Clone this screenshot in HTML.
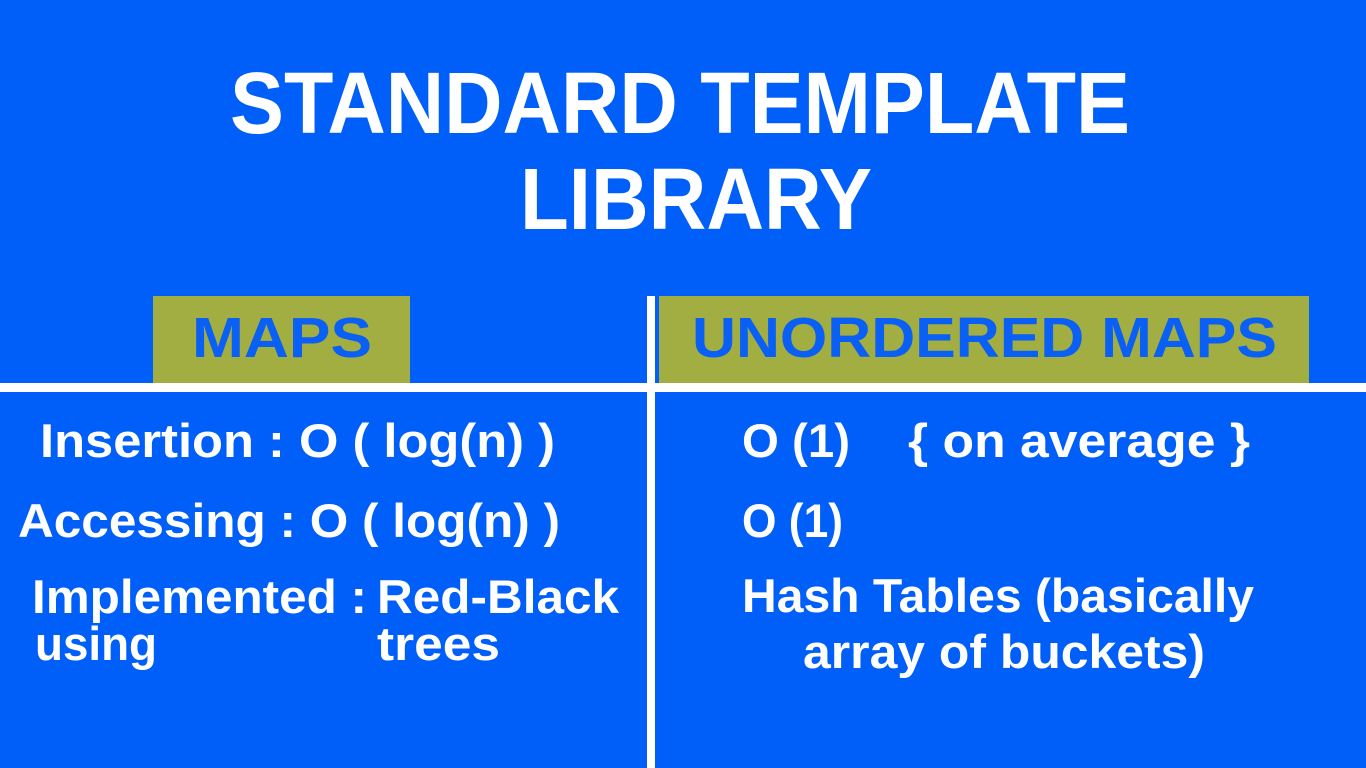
<!DOCTYPE html>
<html><head><meta charset="utf-8"><style>
html,body{margin:0;padding:0;background:#005ef9;}
svg{display:block}
text{font-family:"Liberation Sans",sans-serif;font-weight:bold;}
</style></head><body>
<svg width="1366" height="768" viewBox="0 0 1366 768">
<rect width="1366" height="768" fill="#005ef9"/>
<rect x="153" y="296" width="257" height="88" fill="#a3ae42"/>
<rect x="659" y="296" width="650" height="88" fill="#a3ae42"/>
<rect x="0" y="383" width="1366" height="9" fill="#fff"/>
<rect x="647" y="296" width="8" height="472" fill="#fff"/>
<g fill="#fff">
<text x="230" y="133" font-size="87" textLength="900" lengthAdjust="spacingAndGlyphs">STANDARD TEMPLATE</text>
<text x="520" y="229" font-size="87" textLength="352" lengthAdjust="spacingAndGlyphs">LIBRARY</text>
</g>
<g fill="#0a5ff5">
<text x="192" y="357" font-size="57" textLength="180" lengthAdjust="spacingAndGlyphs">MAPS</text>
<text x="692" y="357" font-size="57" textLength="585" lengthAdjust="spacingAndGlyphs">UNORDERED MAPS</text>
</g>
<g fill="#fff" font-size="47">
<text x="40" y="457" textLength="515" lengthAdjust="spacingAndGlyphs">Insertion : O ( log(n) )</text>
<text x="18" y="537" textLength="542" lengthAdjust="spacingAndGlyphs">Accessing : O ( log(n) )</text>
<text x="32" y="613" textLength="335" lengthAdjust="spacingAndGlyphs">Implemented :</text>
<text x="377" y="613" textLength="242" lengthAdjust="spacingAndGlyphs">Red-Black</text>
<text x="35" y="660" textLength="122" lengthAdjust="spacingAndGlyphs">using</text>
<text x="377" y="660" textLength="123" lengthAdjust="spacingAndGlyphs">trees</text>
<text x="742" y="457" textLength="108" lengthAdjust="spacingAndGlyphs">O (1)</text>
<text x="908" y="457" textLength="342" lengthAdjust="spacingAndGlyphs">{ on average }</text>
<text x="742" y="537" textLength="101" lengthAdjust="spacingAndGlyphs">O (1)</text>
<text x="742" y="612" textLength="512" lengthAdjust="spacingAndGlyphs">Hash Tables (basically</text>
<text x="803" y="668" textLength="402" lengthAdjust="spacingAndGlyphs">array of buckets)</text>
</g>
</svg>
</body></html>
